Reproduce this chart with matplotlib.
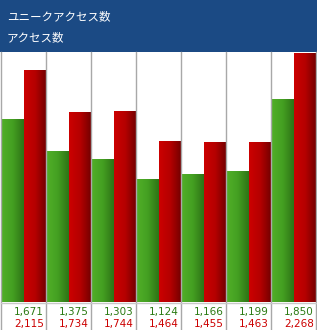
import matplotlib
matplotlib.use("Agg")
import matplotlib.pyplot as plt
import numpy as np
from matplotlib.lines import Line2D
from matplotlib.patches import Rectangle
from matplotlib.colors import LinearSegmentedColormap

series_names = ["ユニークアクセス数", "アクセス数"]
unique = [1671, 1375, 1303, 1124, 1166, 1199, 1850]
access = [2115, 1734, 1744, 1464, 1455, 1463, 2268]

W, H = 317, 330
fig = plt.figure(figsize=(W / 100, H / 100), dpi=100)
fig.patch.set_facecolor("white")

def fx(px):
    return px / W

def fy(py):
    return 1 - py / H

# header
fig.patches.append(Rectangle((0, fy(52)), 1, 52 / H, transform=fig.transFigure,
                             facecolor="#1b4a84", edgecolor="none", zorder=0))
fig.text(fx(7), fy(17), series_names[0], color="white", fontsize=8.3,
         family=["Noto Sans CJK JP", "DejaVu Sans"], va="center", ha="left")
fig.text(fx(7), fy(38), series_names[1], color="white", fontsize=8.3,
         family=["Noto Sans CJK JP", "DejaVu Sans"], va="center", ha="left")

ax = fig.add_axes([fx(1), fy(302), fx(315), 250 / H])
ax.axis("off")

green_cmap = LinearSegmentedColormap.from_list("g", ["#52b028", "#44a022", "#2e7416"])
red_cmap = LinearSegmentedColormap.from_list("r", ["#cc0000", "#b40000", "#700000"])
grad = np.linspace(0, 1, 64).reshape(1, -1)

x = np.arange(len(unique))
gb = ax.bar(x, unique, width=0.5, align="edge", color="#3f9a20", linewidth=0)
rb = ax.bar(x + 0.5, access, width=0.5, align="edge", color="#b00000", linewidth=0)
for bars, cmap in ((gb, green_cmap), (rb, red_cmap)):
    for b in bars:
        x0, w, h = b.get_x(), b.get_width(), b.get_height()
        im = ax.imshow(grad, cmap=cmap, extent=(x0, x0 + w, 0, h), aspect="auto",
                       zorder=2, interpolation="bilinear")
        im.set_clip_path(b)
ax.set_xlim(0, len(unique))
ax.set_ylim(0, 2280)

# separators
for i in range(len(unique) + 1):
    px = 1 + i * 45
    if i == len(unique):
        px = 316
    fig.lines.append(Line2D([fx(px), fx(px)], [fy(52), 0], transform=fig.transFigure,
                            color="#a8a8a8", linewidth=1, zorder=5))
fig.lines.append(Line2D([fx(1), fx(316)], [fy(302.5), fy(302.5)], transform=fig.transFigure,
                        color="#c8c8c8", linewidth=1, zorder=5))

# value labels
for i in range(len(unique)):
    right = fx(1 + (i + 1) * 45 - 2)
    fig.text(right, fy(312), f"{unique[i]:,}", color="#2a7a12", fontsize=7.5,
             ha="right", va="center")
    fig.text(right, fy(324), f"{access[i]:,}", color="#cc0000", fontsize=7.5,
             ha="right", va="center")

fig.savefig("out.png", dpi=100)
